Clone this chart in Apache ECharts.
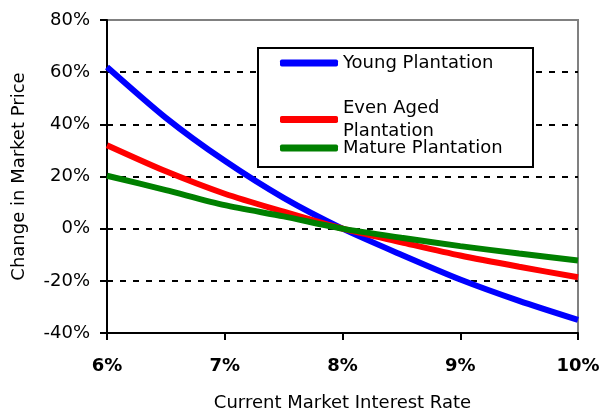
<!DOCTYPE html>
<html>
<head>
<meta charset="utf-8">
<script src="https://cdn.jsdelivr.net/npm/echarts@6/dist/echarts.min.js"></script>
<style>
html,body{margin:0;padding:0;background:#fff;}
#chart{width:602px;height:411px;}
</style>
</head>
<body>
<div id="chart"></div>
<script>
// Data
const rates = [6, 6.5, 7, 7.5, 8, 8.5, 9, 9.5, 10];
const young = [62, 42.5, 26, 11.8, 0, -10, -19.5, -27.7, -35];
const evenAged = [32, 22, 13.4, 6.5, 0, -5.2, -10.3, -14.6, -18.6];
const mature = [20.3, 14.8, 9, 4.7, 0, -3.5, -6.7, -9.5, -12.2];
const seriesNames = ['Young Plantation', 'Even Aged Plantation', 'Mature Plantation'];
const xTicks = [6, 7, 8, 9, 10];
const yTicks = [-40, -20, 0, 20, 40, 60, 80];

const FONT = '"DejaVu Sans", sans-serif';
const FS = 18;
const chart = echarts.init(document.getElementById('chart'), null, {renderer: 'canvas'});

function pairs(ys) { return rates.map((r, i) => [r, ys[i]]); }

const lineColors = ['#0000FF', '#FF0000', '#008000'];
const dataSets = [young, evenAged, mature];

const option = {
  animation: false,
  backgroundColor: '#fff',
  grid: {
    left: 107, right: 24, top: 20, bottom: 78,
    containLabel: false, outerBoundsMode: 'none',
    show: true, borderColor: '#808080', borderWidth: 2, backgroundColor: 'transparent'
  },
  graphic: [{
    type: 'rect',
    shape: {x: 258, y: 48, width: 275, height: 119},
    style: {fill: '#fff', stroke: '#000', lineWidth: 2},
    z: 3
  }],
  legend: [
    {
      left: 280, top: 52, selectedMode: false, padding: 0,
      itemWidth: 58, itemHeight: 7, icon: 'roundRect',
      data: [seriesNames[0]],
      textStyle: {fontFamily: FONT, fontSize: FS, color: '#000', lineHeight: 22},
      z: 5
    },
    {
      left: 280, top: 81, selectedMode: false, padding: 0,
      itemWidth: 58, itemHeight: 7, icon: 'roundRect',
      data: [seriesNames[1]],
      formatter: () => 'Even Aged\nPlantation',
      textStyle: {fontFamily: FONT, fontSize: FS, color: '#000', lineHeight: 23, padding: [31, 0, 0, 0]},
      z: 5
    },
    {
      left: 280, top: 135, selectedMode: false, padding: 0,
      itemWidth: 58, itemHeight: 7, icon: 'roundRect',
      data: [seriesNames[2]],
      textStyle: {fontFamily: FONT, fontSize: FS, color: '#000', lineHeight: 22, padding: [4, 0, 0, 0]},
      z: 5
    }
  ],
  xAxis: {
    type: 'value',
    min: xTicks[0], max: xTicks[xTicks.length - 1], interval: 1,
    name: 'Current Market Interest Rate',
    nameLocation: 'middle', nameGap: 61,
    nameTextStyle: {fontFamily: FONT, fontSize: FS, color: '#000'},
    axisLine: {show: true, onZero: false, lineStyle: {color: '#000', width: 2}},
    axisTick: {show: true, inside: false, length: 7, lineStyle: {color: '#000', width: 2}},
    axisLabel: {
      margin: 24, fontFamily: FONT, fontSize: FS, fontWeight: 'bold', color: '#000',
      formatter: v => v + '%'
    },
    splitLine: {show: false}
  },
  yAxis: {
    type: 'value',
    min: yTicks[0], max: yTicks[yTicks.length - 1], interval: 20,
    name: 'Change in Market Price',
    nameLocation: 'middle', nameGap: 79,
    nameTextStyle: {fontFamily: FONT, fontSize: FS, color: '#000'},
    axisLine: {show: true, lineStyle: {color: '#000', width: 2}},
    axisTick: {show: true, inside: false, length: 7, lineStyle: {color: '#000', width: 2}},
    axisLabel: {
      margin: 17, fontFamily: FONT, fontSize: FS, color: '#000',
      formatter: v => v + '%'
    },
    splitLine: {
      show: true, showMinLine: false, showMaxLine: false,
      lineStyle: {color: '#000', width: 2, type: [6, 7]}
    }
  },
  series: seriesNames.map((n, i) => ({
    name: n,
    type: 'line',
    data: pairs(dataSets[i]),
    smooth: 0.25,
    showSymbol: false,
    symbol: 'none',
    lineStyle: {color: lineColors[i], width: 6},
    itemStyle: {color: lineColors[i]},
    z: 2
  }))
};

chart.setOption(option);
</script>
</body>
</html>
